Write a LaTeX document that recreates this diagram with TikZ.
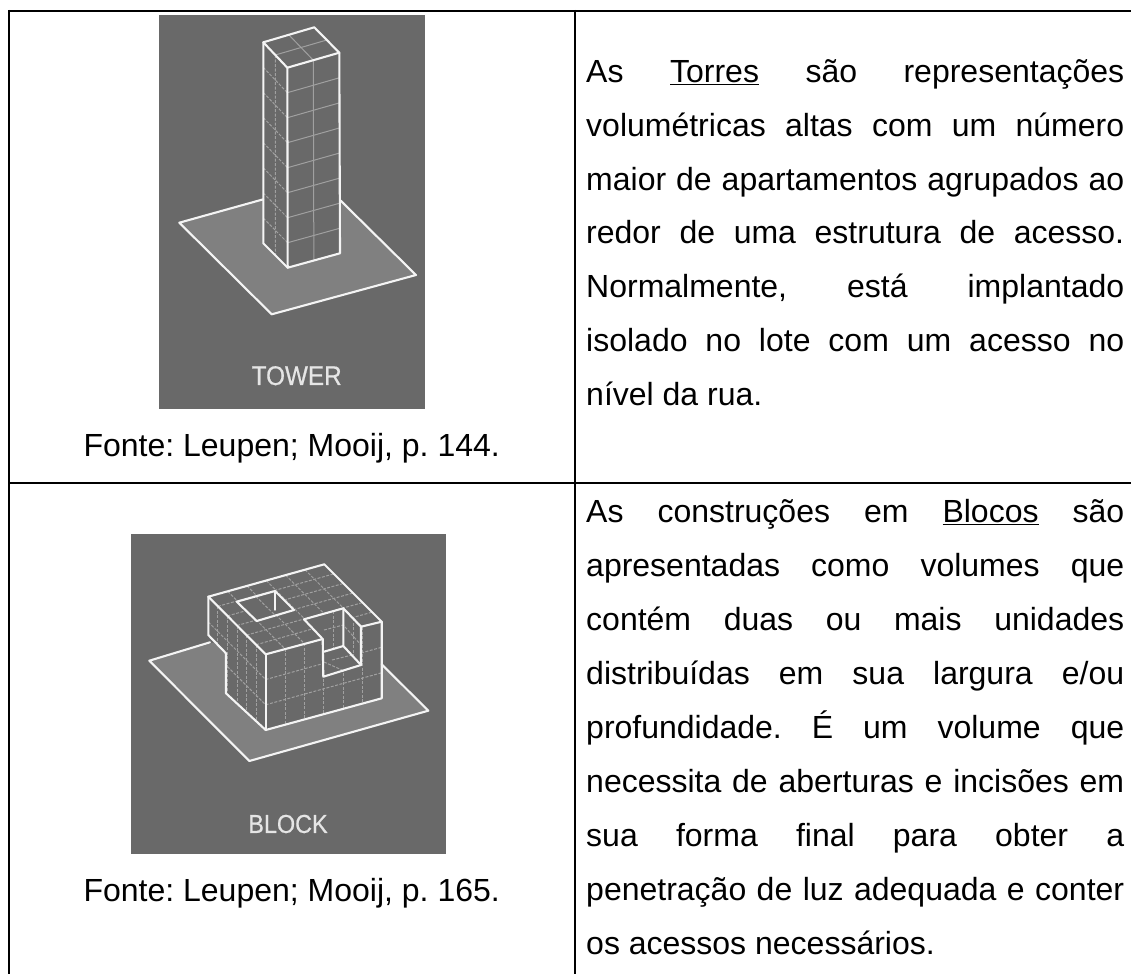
\documentclass[tikz,border=0pt]{standalone}
\usepackage{fontspec}
\setmainfont{Liberation Sans}
\newfontfamily\labelfont[FakeStretch=0.9,FakeBold=0.6]{Liberation Sans}
\usetikzlibrary{calc}
\definecolor{imgbg}{HTML}{696969}
\definecolor{imgground}{HTML}{808080}
\definecolor{imgline}{HTML}{F4F4F4}
\definecolor{imggrid}{HTML}{A0A0A0}
\newcommand{\gridset}[6][]{\foreach \t in {#6}{\draw[gridline,#1] ($(#2)!\t!(#3)$) -- ($(#4)!\t!(#5)$);}}
\newcommand{\jline}[3]{\node[bodytext] (#1) at (586,#2) {\makebox[538pt][s]{#3}};}
\newcommand{\fline}[3]{\node[bodytext] (#1) at (586,#2) {#3};}
\tikzset{
  tableline/.style={line width=1.7pt,black},
  outline/.style={line width=2.1pt,imgline,line join=round,line cap=round},
  thinline/.style={line width=1.4pt,imgline,line join=round,line cap=round},
  gridline/.style={line width=1pt,imggrid},
  dashgrid/.style={dash pattern=on 3pt off 1.5pt},
  ground/.style={fill=imgground},
  bodytext/.style={anchor=base west,inner sep=0pt,font=\fontsize{32}{38}\selectfont,text=black},
  caption/.style={anchor=base,inner sep=0pt,font=\fontsize{32}{38}\selectfont,text=black},
  imglabel/.style={anchor=center,inner sep=0pt,text=white!90!black}
}
\frenchspacing
\begin{document}
\begin{tikzpicture}[x=1pt,y=-1pt]
\useasboundingbox (0,0) rectangle (1131,974);
\fill[white] (0,0) rectangle (1131,974);

% ---------- tower image
\fill[imgbg] (159,15) rectangle (425,409);
\coordinate (gl) at (179.3,222.7);
\coordinate (gf) at (271.7,314.3);
\coordinate (gr) at (416,275);
\coordinate (gb) at (323.6,183.4);
\fill[ground] (gl) -- (gf) -- (gr) -- (gb) -- cycle;
\coordinate (ta) at (263.3,42.3);
\coordinate (tb) at (314.3,27.3);
\coordinate (tc) at (339.3,52.7);
\coordinate (td) at (287.3,67.7);
\coordinate (ba) at (263.3,243.3);
\coordinate (bd) at (287.7,267.7);
\coordinate (bc) at (340,253.3);
\fill[imgbg] (ta) -- (tb) -- (tc) -- (bc) -- (bd) -- (ba) -- cycle;
\gridset{td}{tc}{bd}{bc}{0.5}
\gridset{td}{bd}{tc}{bc}{0.125,0.25,0.375,0.5,0.625,0.75,0.875}
\gridset[dashgrid]{ta}{td}{ba}{bd}{0.5}
\gridset[dashgrid]{ta}{ba}{td}{bd}{0.125,0.25,0.375,0.5,0.625,0.75,0.875}
\gridset{ta}{tb}{td}{tc}{0.5}
\gridset{ta}{td}{tb}{tc}{0.5}
\draw[outline] (263.3,199.3) -- (gl) -- (gf) -- (gr) -- (340,200);
\draw[outline] (ta) -- (tb) -- (tc) -- (td) -- cycle;
\draw[outline] (ta) -- (ba) -- (bd) -- (bc) -- (tc);
\draw[outline] (td) -- (bd);
\node[imglabel,font=\labelfont\fontsize{27}{30}\selectfont] (towerlabel) at (296.7,375.7) {TOWER};

% ---------- block image
\fill[imgbg] (131,534) rectangle (446,854);
\coordinate (kl) at (149.3,660.7);
\coordinate (kf) at (249.3,761);
\coordinate (kr) at (428.3,710.7);
\coordinate (kb) at (328.3,610.4);
\fill[ground] (kl) -- (kf) -- (kr) -- (kb) -- cycle;
\coordinate (a) at (208.3,596.7);
\coordinate (b) at (324.3,564.3);
\coordinate (c) at (381.7,621.7);
\coordinate (d) at (361,626.7);
\coordinate (e) at (343.3,608.3);
\coordinate (f) at (304,619.3);
\coordinate (g) at (322.7,639);
\coordinate (h) at (265.7,654.3);
\coordinate (i) at (265.7,730);
\coordinate (j) at (381.7,698.3);
\coordinate (k) at (323.3,676.7);
\coordinate (m) at (361,665);
\coordinate (n) at (343.3,646);
\coordinate (o) at (324,651.7);
\coordinate (p) at (208.3,635);
\coordinate (q) at (226,653.3);
\coordinate (r) at (226,693.3);
\coordinate (s) at (208.3,672.7);
\fill[imgbg] (a) -- (b) -- (c) -- (j) -- (i) -- (r) -- (q) -- (p) -- cycle;
% top grid
\begin{scope}
\clip (a) -- (b) -- (c) -- (d) -- (e) -- (f) -- (g) -- (h) -- cycle;
\gridset[dashgrid]{a}{b}{h}{c}{0.1667,0.3333,0.5,0.6667,0.8333}
\gridset[dashgrid]{a}{h}{b}{c}{0.1667,0.3333,0.5,0.6667,0.8333}
\end{scope}
% courtyard
\coordinate (y1) at (236.7,601.7);
\coordinate (y2) at (275,591);
\coordinate (y3) at (294,610);
\coordinate (y4) at (256.7,621);
\coordinate (y5) at (275,610);
\fill[imgbg] (y1) -- (y2) -- (y3) -- (y4) -- cycle;
\draw[gridline,dashgrid] ($(y1)!0.5!(y2)$) -- ($(y4)!0.5!(y3)$);
% front face grid
\begin{scope}
\clip (h) -- (g) -- (k) -- (m) -- (d) -- (c) -- (j) -- (i) -- cycle;
\gridset[dashgrid]{h}{c}{i}{j}{0.1667,0.3333,0.5,0.6667,0.8333}
\gridset[dashgrid]{h}{i}{c}{j}{0.3333,0.6667}
\end{scope}
% left face grid
\begin{scope}
\clip (a) -- (h) -- (i) -- (r) -- (q) -- (p) -- cycle;
\gridset[dashgrid]{a}{h}{s}{i}{0.1667,0.3333,0.5,0.6667,0.8333}
\gridset[dashgrid]{a}{s}{h}{i}{0.3333,0.6667}
\end{scope}
% notch walls
\draw[gridline,dashgrid] (324,630) -- (343.3,625) -- (361,645);
\draw[gridline,dashgrid] (333,611) -- (333,649);
\draw[gridline,dashgrid] (353,618) -- (353,655);
\draw[gridline,dashgrid] (332,660) -- (352,655);
\draw[gridline,dashgrid] (324,662) -- (342,670);
\draw[outline] (210,642.3) -- (kl) -- (kf) -- (kr) -- (381.7,664.3);
\draw[outline] (a) -- (b) -- (c) -- (d) -- (e) -- (f) -- (g) -- (h) -- cycle;
\draw[outline] (a) -- (p) -- (q) -- (r) -- (i) -- (j) -- (c);
\draw[outline] (h) -- (i);
\draw[outline] (g) -- (k) -- (m) -- (d);
\draw[outline] (e) -- (n) -- (m);
\draw[outline] (n) -- (o);
\draw[outline] (y1) -- (y2) -- (y3) -- (y4) -- cycle;
\draw[thinline] (y2) -- (y5);
\node[imglabel,font=\labelfont\fontsize{26}{29}\selectfont] (blocklabel) at (288,824) {BLOCK};

% ---------- table rules
\draw[tableline] (8,11) -- (1131,11);
\draw[tableline] (8,482.7) -- (1131,482.7);
\draw[tableline] (9,10) -- (9,974);
\draw[tableline] (575,10) -- (575,974);

% ---------- captions
\node[caption] (cap1) at (291.7,456) {Fonte: Leupen; Mooij, p. 144.};
\node[caption] (cap2) at (291.7,901.7) {Fonte: Leupen; Mooij, p. 165.};

% ---------- first text
\jline{t1}{82}{As \underline{Torres} são representações}
\jline{t2}{136}{volumétricas altas com um número}
\jline{t3}{190}{maior de apartamentos agrupados ao}
\jline{t4}{243.5}{redor de uma estrutura de acesso.}
\jline{t5}{297}{Normalmente, está implantado}
\jline{t6}{351}{isolado no lote com um acesso no}
\fline{t7}{405}{nível da rua.}

% ---------- second text
\jline{u1}{522}{As construções em \underline{Blocos} são}
\jline{u2}{576}{apresentadas como volumes que}
\jline{u3}{630}{contém duas ou mais unidades}
\jline{u4}{684}{distribuídas em sua largura e/ou}
\jline{u5}{738}{profundidade. É um volume que}
\jline{u6}{792}{necessita de aberturas e incisões em}
\jline{u7}{846}{sua forma final para obter a}
\jline{u8}{900}{penetração de luz adequada e conter}
\fline{u9}{954}{os acessos necessários.}
\end{tikzpicture}
\end{document}
